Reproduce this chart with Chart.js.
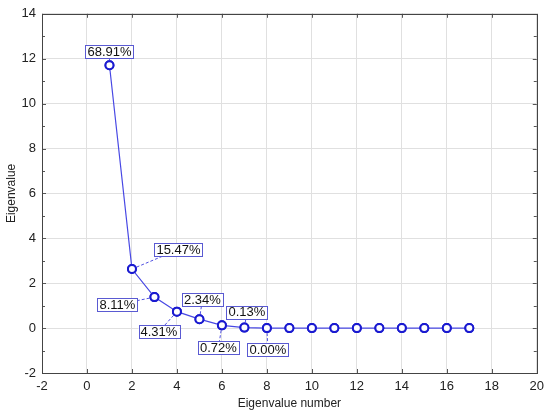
<!DOCTYPE html>
<html>
<head>
<meta charset="utf-8">
<script src="https://cdn.jsdelivr.net/npm/chart.js@4/dist/chart.umd.min.js"></script>
<style>
    html, body { margin: 0; padding: 0; background: #fff; }
    #wrap { width: 550px; height: 415px; }
</style>
</head>
<body>
<div id="wrap"><canvas id="scree"></canvas></div>
<script>
// --- Data ---
const eigenNumbers = [1, 2, 3, 4, 5, 6, 7, 8, 9, 10, 11, 12, 13, 14, 15, 16, 17];
const eigenValues = [11.71, 2.63, 1.38, 0.733, 0.398, 0.122, 0.022, 0.0, 0.0, 0.0, 0.0, 0.0, 0.0, 0.0, 0.0, 0.0, 0.0];
const percentLabels = ['68.91%', '15.47%', '8.11%', '4.31%', '2.34%', '0.72%', '0.13%', '0.00%'];
const xTicks = [-2, 0, 2, 4, 6, 8, 10, 12, 14, 16, 18, 20];
const yTicks = [-2, 0, 2, 4, 6, 8, 10, 12, 14];

// label box offsets from their point, in px
const labelOffsets = [[0, -13.5], [46.5, -19.5], [-37, 7.5], [-18, 20], [3, -19.5], [-3.5, 22.5], [2.5, -15.5], [1, 21.5]];

const BLUE = '#1a1ad0';
const FONT = '"Liberation Sans", Arial, sans-serif';

// --- Frame, inward ticks and percent labels ---
const framePlugin = {
    id: 'frame',
    beforeDatasetsDraw(chart) {
        const { ctx, chartArea: a, scales: { x, y } } = chart;
        ctx.save();
        ctx.strokeStyle = '#555';
        ctx.lineWidth = 1;
        ctx.beginPath();
        xTicks.forEach(v => {
            const px = Math.round(x.getPixelForValue(v)) + 0.5;
            ctx.moveTo(px, a.bottom); ctx.lineTo(px, a.bottom - 4);
            ctx.moveTo(px, a.top); ctx.lineTo(px, a.top + 4);
        });
        for (let v = -2; v <= 14; v++) {
            const len = v % 2 === 0 ? 4 : 3;
            const py = Math.round(y.getPixelForValue(v)) + 0.5;
            ctx.moveTo(a.left, py); ctx.lineTo(a.left + len, py);
            ctx.moveTo(a.right, py); ctx.lineTo(a.right - len, py);
        }
        ctx.stroke();
        ctx.strokeStyle = '#444';
        ctx.strokeRect(Math.round(a.left) + 0.5, Math.round(a.top) + 0.5,
            Math.round(a.right - a.left), Math.round(a.bottom - a.top));
        ctx.restore();
    },
    afterDatasetsDraw(chart) {
        const { ctx } = chart;
        const meta = chart.getDatasetMeta(0);
        ctx.save();
        ctx.font = '13px ' + FONT;
        ctx.textAlign = 'center';
        ctx.textBaseline = 'middle';
        percentLabels.forEach((txt, i) => {
            const pt = meta.data[i];
            const [dx, dy] = labelOffsets[i];
            const cx = pt.x + dx, cy = pt.y + dy;
            const w = ctx.measureText(txt).width + 4;
            const h = 13;
            // dashed leader
            ctx.setLineDash([3, 2]);
            ctx.strokeStyle = '#5050e0';
            ctx.lineWidth = 1;
            ctx.beginPath();
            ctx.moveTo(pt.x, pt.y);
            ctx.lineTo(cx, cy);
            ctx.stroke();
            ctx.setLineDash([]);
            // box
            ctx.fillStyle = '#fff';
            ctx.fillRect(cx - w / 2, cy - h / 2, w, h);
            ctx.strokeStyle = '#5a5ad2';
            ctx.strokeRect(Math.round(cx - w / 2) + 0.5, Math.round(cy - h / 2) + 0.5, Math.round(w), h);
            ctx.fillStyle = '#111';
            ctx.fillText(txt, cx, cy + 0.5);
        });
        ctx.restore();
        // redraw points over the leaders
        meta.data.forEach(p => p.draw(ctx, chart.chartArea));
    }
};

new Chart(document.getElementById('scree'), {
    type: 'scatter',
    data: {
        datasets: [{
            data: eigenNumbers.map((n, i) => ({ x: n, y: eigenValues[i] })),
            showLine: true,
            borderColor: '#4848e4',
            borderWidth: 1.2,
            pointRadius: 4,
            pointBorderWidth: 2,
            pointBorderColor: BLUE,
            pointBackgroundColor: '#fff',
            pointHoverRadius: 4
        }]
    },
    options: {
        responsive: true,
        maintainAspectRatio: false,
        animation: false,
        layout: { padding: { top: 13, right: 13, left: 0, bottom: 0 } },
        plugins: { legend: { display: false }, tooltip: { enabled: false } },
        scales: {
            x: {
                type: 'linear',
                min: -2, max: 20,
                afterBuildTicks: s => { s.ticks = xTicks.map(v => ({ value: v })); },
                afterFit: s => { s.height = 42; },
                grid: { color: '#e0e0e0', drawTicks: false },
                border: { display: false },
                ticks: { color: '#222', font: { size: 13, family: FONT }, padding: 6 },
                title: { display: true, text: 'Eigenvalue number', color: '#222', font: { size: 12, family: FONT }, padding: { top: 1 } }
            },
            y: {
                min: -2, max: 14,
                afterBuildTicks: s => { s.ticks = yTicks.map(v => ({ value: v })); },
                afterFit: s => { s.width = 42; },
                grid: { color: '#e0e0e0', drawTicks: false },
                border: { display: false },
                ticks: { color: '#222', font: { size: 13, family: FONT }, padding: 6 },
                title: { display: true, text: 'Eigenvalue', color: '#222', font: { size: 12, family: FONT }, padding: { bottom: 2 } }
            }
        }
    },
    plugins: [framePlugin]
});
</script>
</body>
</html>
